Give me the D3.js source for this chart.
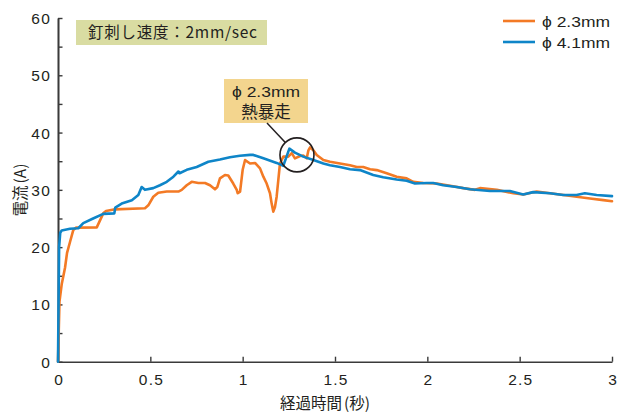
<!DOCTYPE html>
<html>
<head>
<meta charset="utf-8">
<script src="https://cdn.jsdelivr.net/npm/d3@7/dist/d3.min.js"></script>
<style>
  html, body { margin: 0; padding: 0; background: #fff; }
  svg { display: block; }
  text { fill: #231f20; }
</style>
</head>
<body>
<svg id="chart" width="618" height="414"></svg>
<script>
// Elapsed time (s) and current (A) for the two nail diameters
const seriesNames = ["ϕ 2.3mm", "ϕ 4.1mm"];
const seriesColors = ["#f37a25", "#0e85c8"];

const timeThin = [0, 0.008, 0.020, 0.038, 0.049, 0.065, 0.083, 0.097, 0.210, 0.245, 0.260, 0.309, 0.471, 0.489, 0.516, 0.543, 0.589, 0.652, 0.670, 0.697, 0.724, 0.760, 0.796, 0.823, 0.850, 0.863, 0.877, 0.904, 0.922, 0.949, 0.968, 0.973, 0.986, 1.000, 1.013, 1.040, 1.067, 1.094, 1.112, 1.130, 1.148, 1.157, 1.166, 1.175, 1.184, 1.193, 1.202, 1.220, 1.247, 1.266, 1.283, 1.311, 1.328, 1.347, 1.356, 1.365, 1.383, 1.401, 1.437, 1.473, 1.527, 1.581, 1.618, 1.653, 1.690, 1.726, 1.780, 1.834, 1.888, 1.924, 1.978, 2.051, 2.123, 2.195, 2.258, 2.285, 2.376, 2.466, 2.520, 2.592, 2.664, 2.737, 2.809, 2.881, 2.953, 3.000];
const currentThin = [0, 10.5, 13.5, 16.4, 19.0, 20.9, 23.0, 23.4, 23.45, 25.9, 26.3, 26.6, 26.8, 27.3, 28.8, 29.5, 29.7, 29.7, 30.0, 30.8, 31.4, 31.2, 31.2, 30.8, 30.1, 30.5, 32.0, 32.6, 32.5, 31.1, 30.0, 29.4, 29.7, 33.5, 35.2, 34.6, 34.7, 33.75, 32.3, 31.1, 29.4, 27.6, 26.2, 27.0, 28.8, 31.7, 34.6, 35.8, 35.8, 36.4, 35.5, 35.9, 36.0, 35.5, 36.9, 37.4, 36.9, 36.1, 35.2, 34.9, 34.6, 34.3, 34.0, 34.0, 33.6, 33.45, 32.9, 32.3, 32.0, 31.4, 31.2, 31.1, 30.7, 30.3, 30.0, 30.3, 30.0, 29.4, 29.2, 29.7, 29.4, 29.1, 28.8, 28.5, 28.2, 28.0];

const timeThick = [0, 0.003, 0.006, 0.012, 0.020, 0.065, 0.110, 0.137, 0.190, 0.245, 0.305, 0.310, 0.345, 0.400, 0.435, 0.453, 0.471, 0.516, 0.552, 0.589, 0.625, 0.652, 0.658, 0.697, 0.751, 0.814, 0.877, 0.931, 0.985, 1.040, 1.058, 1.112, 1.184, 1.220, 1.253, 1.283, 1.328, 1.383, 1.437, 1.473, 1.527, 1.581, 1.635, 1.707, 1.761, 1.834, 1.888, 1.933, 1.996, 2.032, 2.086, 2.159, 2.231, 2.339, 2.447, 2.519, 2.573, 2.664, 2.736, 2.808, 2.853, 2.917, 3.000];
const currentThick = [0, 10, 20, 22.5, 22.9, 23.2, 23.3, 24.2, 25.0, 25.8, 25.9, 26.9, 27.6, 28.2, 29.1, 30.5, 30.0, 30.3, 30.8, 31.4, 32.3, 33.2, 32.9, 33.5, 34.0, 34.9, 35.3, 35.7, 35.95, 36.1, 36.1, 35.5, 34.7, 34.2, 37.2, 36.5, 35.8, 35.2, 34.6, 34.3, 34.0, 33.6, 33.45, 32.6, 32.2, 31.8, 31.6, 31.1, 31.2, 31.2, 30.8, 30.5, 30.1, 29.8, 29.8, 29.2, 29.6, 29.4, 29.1, 29.1, 29.4, 29.1, 28.9];

const xTicks = [0, 0.5, 1, 1.5, 2, 2.5, 3];
const xTickLabels = ["0", "0.5", "1", "1.5", "2", "2.5", "3"];
const yMajorTicks = [0, 10, 20, 30, 40, 50, 60];
const yMinorTicks = [5, 15, 25, 35, 45, 55];

const xTitle = ["経過時間", "(", "秒", ")"];
const yTitle = ["電流", "(A)"];
const speedNote = "釘刺し速度：2mm/sec";
const calloutLines = ["ϕ 2.3mm", "熱暴走"];
const calloutPoint = [1.294, 36.1];

const svg = d3.select("#chart");
const latin = "'Liberation Sans', Arial, 'Noto Sans CJK JP', sans-serif";
const cjk = "'Noto Sans CJK JP', 'Liberation Sans', sans-serif";
const axisColor = "#3a3a3a";

const x = d3.scaleLinear().domain([0, 3]).range([58, 612]);
const y = d3.scaleLinear().domain([0, 60]).range([361.7, 18]);

// Axes: inward ticks, no outer ticks
const xAxis = d3.axisBottom(x).tickValues(xTicks).tickSizeInner(-5).tickSizeOuter(0)
  .tickPadding(12).tickFormat((d, i) => xTickLabels[i]);
const gx = svg.append("g").attr("transform", `translate(0,${y(0)})`).call(xAxis);

const gyMinor = svg.append("g").attr("transform", `translate(${x(0)},0)`)
  .call(d3.axisLeft(y).tickValues(yMinorTicks).tickSizeInner(-4.5).tickSizeOuter(0).tickFormat(""));
const gy = svg.append("g").attr("transform", `translate(${x(0)},0)`)
  .call(d3.axisLeft(y).tickValues(yMajorTicks).tickSizeInner(-4.5).tickSizeOuter(0).tickPadding(7).tickFormat(d3.format("d")));

[gx, gy, gyMinor].forEach(g => {
  g.select(".domain").attr("stroke", axisColor).attr("stroke-width", 1.6);
  g.selectAll(".tick line").attr("stroke", axisColor).attr("stroke-width", 1.4);
  g.selectAll(".tick text").attr("fill", "#231f20").attr("font-family", latin)
    .attr("font-size", 15.5).attr("letter-spacing", 1.2);
});
gx.selectAll(".tick text").attr("dy", "0.71em").attr("transform", "translate(0.6,0)");
gy.selectAll(".tick text").attr("dy", "0.35em");
gx.selectAll(".tick").filter(d => d === 0).select("line").remove();

// Series lines
const line = d3.line().x(d => x(d[0])).y(d => y(d[1]));
const seriesData = [
  d3.zip(timeThin, currentThin),
  d3.zip(timeThick, currentThick)
];
seriesData.forEach((pts, i) => {
  svg.append("path").datum(pts)
    .attr("d", line)
    .attr("fill", "none")
    .attr("stroke", seriesColors[i])
    .attr("stroke-width", 2.6)
    .attr("stroke-linejoin", "round")
    .attr("stroke-linecap", "round");
});

// Axis titles
const xt = svg.append("text").attr("x", 325).attr("y", 409)
  .attr("text-anchor", "middle").attr("font-family", cjk).attr("font-size", 15.5);
xt.append("tspan").text(xTitle[0]);
xt.append("tspan").attr("dx", 2).text(xTitle[1]);
xt.append("tspan").text(xTitle[2]);
xt.append("tspan").text(xTitle[3]);

const yt = svg.append("text")
  .attr("transform", "translate(25.5,190) rotate(-90)")
  .attr("text-anchor", "middle").attr("font-family", cjk).attr("font-size", 15.5);
yt.append("tspan").text(yTitle[0]);
yt.append("tspan").attr("dx", 2).text(yTitle[1]);

// Legend
const legend = svg.append("g");
seriesNames.forEach((name, i) => {
  const ly = 21 + i * 21;
  legend.append("line").attr("x1", 503).attr("x2", 535).attr("y1", ly).attr("y2", ly)
    .attr("stroke", seriesColors[i]).attr("stroke-width", 2.6);
  legend.append("text").attr("x", 542).attr("y", ly).attr("dy", "0.36em")
    .attr("font-family", latin).attr("font-size", 15.5)
    .attr("textLength", 68).attr("lengthAdjust", "spacingAndGlyphs")
    .text(name);
});

// Nail speed note
svg.append("rect").attr("x", 76).attr("y", 20).attr("width", 191).attr("height", 25)
  .attr("fill", "#d9dca2");
svg.append("text").attr("x", 88).attr("y", 32.5).attr("dy", "0.36em")
  .attr("font-family", cjk).attr("font-size", 15.5)
  .attr("textLength", 169).attr("lengthAdjust", "spacing")
  .text(speedNote);

// Thermal runaway callout
const cx = x(calloutPoint[0]), cy = y(calloutPoint[1]), r = 17;
const boxX = 224, boxY = 79, boxW = 84, boxH = 44;
svg.append("rect").attr("x", boxX).attr("y", boxY).attr("width", boxW).attr("height", boxH)
  .attr("fill", "#f3d58e");
svg.append("text").attr("x", boxX + boxW / 2).attr("y", 91).attr("dy", "0.36em")
  .attr("text-anchor", "middle").attr("font-family", latin).attr("font-size", 15.5)
  .attr("textLength", 68).attr("lengthAdjust", "spacingAndGlyphs")
  .text(calloutLines[0]);
svg.append("text").attr("x", boxX + boxW / 2).attr("y", 112).attr("dy", "0.36em")
  .attr("text-anchor", "middle").attr("font-family", cjk).attr("font-size", 16.5)
  .text(calloutLines[1]);

const sx = 267, sy = boxY + boxH;
const dx = cx - sx, dyy = cy - sy, len = Math.hypot(dx, dyy);
svg.append("line")
  .attr("x1", sx).attr("y1", sy)
  .attr("x2", sx + dx * (len - r) / len).attr("y2", sy + dyy * (len - r) / len)
  .attr("stroke", "#231f20").attr("stroke-width", 1.5);
svg.append("circle").attr("cx", cx).attr("cy", cy).attr("r", r)
  .attr("fill", "none").attr("stroke", "#231f20").attr("stroke-width", 1.6);
</script>
</body>
</html>
